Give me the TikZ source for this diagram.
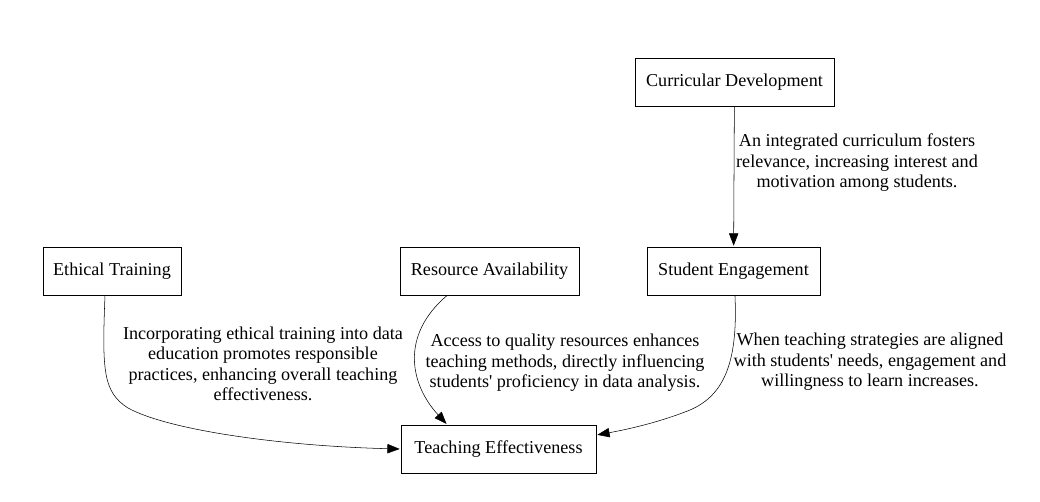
\documentclass[tikz,border=0pt]{standalone}
\usepackage{fontspec}
\setmainfont{Liberation Serif}
\usetikzlibrary{arrows.meta}

\begin{document}
\begin{tikzpicture}[x=0.75pt,y=-0.75pt]
\tikzset{ >={Triangle[length=10pt,width=7.5pt]}, line width=0.8pt,
  box/.style={draw, inner sep=0pt, minimum height=36pt, font=\fontsize{13.6}{15.4}\selectfont},
  note/.style={inner sep=0pt, align=center, font=\fontsize{13.6}{15.4}\selectfont},
}

\useasboundingbox (0,0) rectangle (1040,501);

\node [box, minimum width=149.25pt] (cd) at (734.5,82)  {Curricular Development};
\node [box, minimum width=103.5pt]  (et) at (112,271)   {Ethical Training};
\node [box, minimum width=134.25pt] (ra) at (489.5,271) {Resource Availability};
\node [box, minimum width=129.75pt] (se) at (733.5,271) {Student Engagement};
\node [box, minimum width=146.25pt] (te) at (498.5,449) {Teaching Effectiveness};

\coordinate (etbend) at (128,408);
\coordinate (sebend) at (690,410);

\draw [->] (cd) -- (se);
\draw [->] ([xshift=-5.25pt]et.south) .. controls +(-3,75) and +(-25,-16) .. (etbend)
                                      .. controls +(40,22) and +(-120,-3) .. (te.west);
\draw [->] ([xshift=-31.9pt]ra.south) .. controls +(-47,40) and +(-37,-40) .. ([xshift=-38.6pt]te.north);
\draw [->] ([xshift=1.1pt]se.south) .. controls +(3,65) and +(35,-15) .. (sebend)
                                    .. controls +(-30,12) and +(33,-6) .. ([yshift=10.5pt]te.east);

\node [note] (cdse) at (857,163) {An integrated curriculum fosters\\relevance, increasing interest and\\motivation among students.};
\node [note] (ette) at (263,364) {Incorporating ethical training into data\\education promotes responsible\\practices, enhancing overall teaching\\effectiveness.};
\node [note] (rate) at (565,363) {Access to quality resources enhances\\teaching methods, directly influencing\\students\textquotesingle{} proficiency in data analysis.};
\node [note] (sete) at (870,362) {When teaching strategies are aligned\\with students\textquotesingle{} needs, engagement and\\willingness to learn increases.};

\end{tikzpicture}
\end{document}
